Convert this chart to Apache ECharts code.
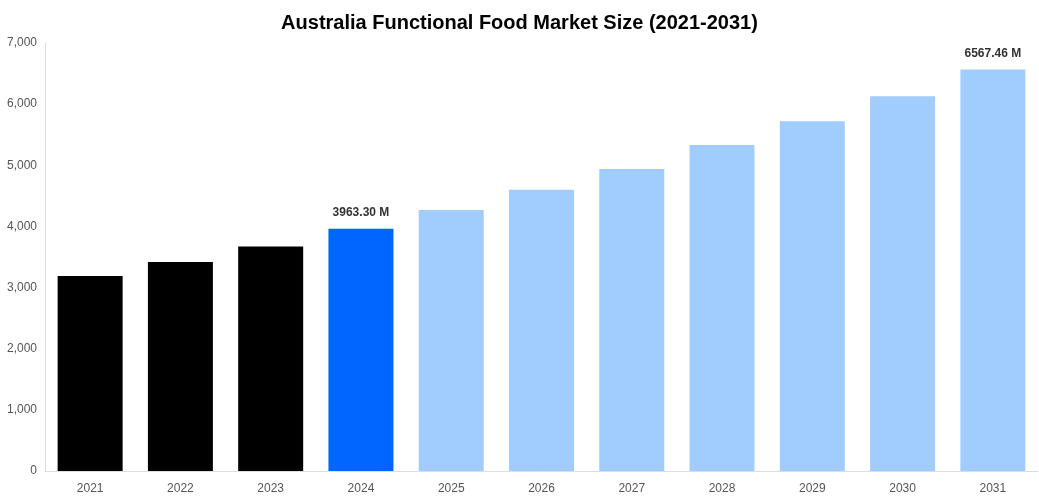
<!DOCTYPE html>
<html>
<head>
<meta charset="utf-8">
<script src="https://cdn.jsdelivr.net/npm/echarts@6/dist/echarts.min.js"></script>
<style>html,body{margin:0;padding:0;background:#fff}#chart{width:1039px;height:500px}</style>
</head>
<body>
<div id="chart"></div>
<script>
var years = ['2021', '2022', '2023', '2024', '2025', '2026', '2027', '2028', '2029', '2030', '2031'];
var values = [3190, 3420, 3670, 3963.30, 4270, 4600, 4940, 5330, 5720, 6130, 6567.46];
var colors = ['#000000', '#000000', '#000000', '#0066ff', '#a0cdfe', '#a0cdfe', '#a0cdfe', '#a0cdfe', '#a0cdfe', '#a0cdfe', '#a0cdfe'];
var labelled = { 3: true, 10: true };

var chart = echarts.init(document.getElementById('chart'));
chart.setOption({
    animation: false,
    title: {
        text: 'Australia Functional Food Market Size (2021-2031)',
        left: 'center',
        top: 8,
        textStyle: { fontFamily: 'Liberation Sans, Arial', fontSize: 20, fontWeight: 'bold', color: '#000' }
    },
    grid: { left: 45, right: 1, top: 43, bottom: 29 },
    xAxis: {
        type: 'category',
        data: years,
        axisTick: { show: false },
        axisLine: { lineStyle: { color: '#ddd' } },
        axisLabel: { color: '#555', fontSize: 12, fontFamily: 'Liberation Sans, Arial', margin: 12 }
    },
    yAxis: {
        type: 'value',
        min: 0,
        max: 7000,
        interval: 1000,
        splitLine: { show: false },
        axisLine: { show: true, lineStyle: { color: '#ddd' } },
        axisLabel: {
            color: '#555', fontSize: 12, fontFamily: 'Liberation Sans, Arial',
            formatter: function (v) { return v.toLocaleString('en-US'); }
        }
    },
    series: [{
        type: 'bar',
        barWidth: '72%',
        data: values.map(function (v, i) {
            return {
                value: v,
                itemStyle: { color: colors[i] },
                label: {
                    show: !!labelled[i],
                    position: 'top',
                    distance: 10,
                    formatter: v.toFixed(2) + ' M',
                    fontWeight: 'bold',
                    fontSize: 12,
                    color: '#333',
                    fontFamily: 'Liberation Sans, Arial'
                }
            };
        })
    }]
});
</script>
</body>
</html>
